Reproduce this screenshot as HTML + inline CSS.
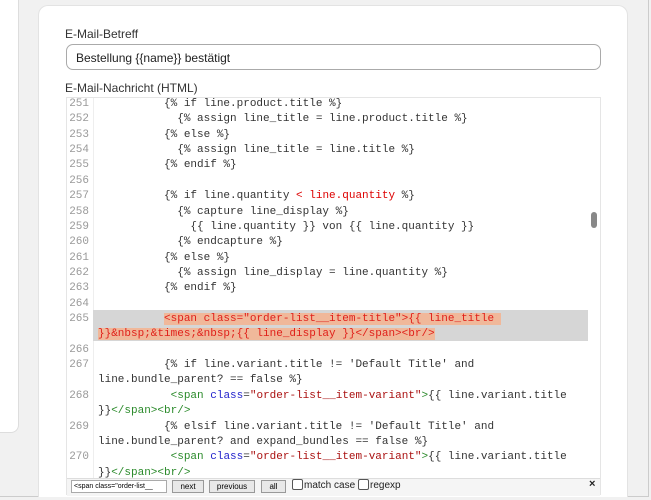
<!DOCTYPE html>
<html><head><meta charset="utf-8"><style>
body{margin:0;width:651px;height:500px;background:#f1f1f1;position:relative;overflow:hidden;font-family:"Liberation Sans",sans-serif}
.a{position:absolute}
.code{font-family:"Liberation Mono",monospace;font-size:11px;line-height:15.36px;white-space:pre;color:#333}
.ln{color:#999;width:22px;text-align:right;left:66px}
.r{color:#d00}.g{color:#2a8a2a}.b{color:#22c}.s{color:#a11}
.hl{background:#f0b89a;color:#e0201a}
</style></head><body>
<div class="a" style="left:0;top:0;width:648px;height:496px;background:#f1f1f1;border-bottom:1px solid #ccc;border-right:1px solid #ccc"></div>
<div class="a" style="left:-10px;top:-10px;width:27px;height:441px;background:#fff;border:1px solid #ddd;border-radius:0 0 8px 0"></div>
<div class="a" style="left:38px;top:5px;width:588px;height:491px;background:#fff;border:1px solid #e3e3e3;border-bottom:none;border-radius:10px 10px 0 0"></div>
<div class="a" style="left:65px;top:27px;font-size:12px;color:#333">E-Mail-Betreff</div>
<div class="a" style="left:66px;top:44px;height:26px;border:1px solid #aaa;border-radius:7px;box-sizing:border-box;width:535px"></div>
<div class="a" style="left:76px;top:51px;font-size:12px;color:#222">Bestellung {{name}} bestätigt</div>
<div class="a" style="left:65px;top:81px;font-size:12px;color:#333">E-Mail-Nachricht (HTML)</div>
<div class="a" style="left:66px;top:97px;width:535px;height:398px;border:1px solid #e5e5e5;box-sizing:border-box;overflow:hidden"></div>
<div class="a" style="left:93px;top:98px;width:1px;height:380px;background:#eee"></div>
<div class="a" style="left:93px;top:310px;width:495px;height:31px;background:#d6d6d6"></div>
<div class="a" style="left:591px;top:212px;width:6px;height:16px;background:#888;border-radius:3px"></div>
<div class="a" style="left:67px;top:98px;width:533px;height:380px;overflow:hidden">
<div class="a code ln" style="left:0;top:-1px">251
252
253
254
255
256
257
258
259
260
261
262
263
264
265

266
267

268

269

270</div>
<div class="a code" style="left:31px;top:-1px">          {% if line.product.title %}
            {% assign line_title = line.product.title %}
          {% else %}
            {% assign line_title = line.title %}
          {% endif %}

          {% if line.quantity <span class="r">&lt; line.quantity</span> %}
            {% capture line_display %}
              {{ line.quantity }} von {{ line.quantity }}
            {% endcapture %}
          {% else %}
            {% assign line_display = line.quantity %}
          {% endif %}

          <span class="hl">&lt;span class="order-list__item-title"&gt;{{ line_title </span>
<span class="hl">}}&amp;nbsp;&amp;times;&amp;nbsp;{{ line_display }}&lt;/span&gt;&lt;br/&gt;</span>

          {% if line.variant.title != 'Default Title' and
line.bundle_parent? == false %}
           <span class="g">&lt;span</span> <span class="b">class</span>=<span class="s">"order-list__item-variant"</span><span class="g">&gt;</span>{{ line.variant.title
}}<span class="g">&lt;/span&gt;&lt;br/&gt;</span>
          {% elsif line.variant.title != 'Default Title' and
line.bundle_parent? and expand_bundles == false %}
           <span class="g">&lt;span</span> <span class="b">class</span>=<span class="s">"order-list__item-variant"</span><span class="g">&gt;</span>{{ line.variant.title
}}<span class="g">&lt;/span&gt;&lt;br/&gt;</span></div>
</div>
<div class="a" style="left:67px;top:478px;width:533px;height:17px;background:#f5f5f5;border-top:1px solid #ddd"></div>
<div class="a" style="left:71px;top:480px;height:13px;border:1px solid #aaa;background:#fff;font-size:7px;line-height:12px;padding-left:2px;box-sizing:border-box;width:96px;overflow:hidden;white-space:nowrap">&lt;span class="order-list__</div>
<div class="a" style="left:172px;top:480px;width:32px;height:13px;border:1px solid #999;background:#e8e8e8;font-size:8px;line-height:12px;text-align:center;box-sizing:border-box">next</div>
<div class="a" style="left:209px;top:480px;width:46px;height:13px;border:1px solid #999;background:#e8e8e8;font-size:8px;line-height:12px;text-align:center;box-sizing:border-box">previous</div>
<div class="a" style="left:261px;top:480px;width:25px;height:13px;border:1px solid #999;background:#e8e8e8;font-size:8px;line-height:12px;text-align:center;box-sizing:border-box">all</div>
<div class="a" style="left:292px;top:479px;width:9px;height:9px;border:1px solid #555;border-radius:2px;background:#fff"></div>
<div class="a" style="left:304px;top:480px;font-size:10px;color:#222">match case</div>
<div class="a" style="left:358px;top:479px;width:9px;height:9px;border:1px solid #555;border-radius:2px;background:#fff"></div>
<div class="a" style="left:370px;top:480px;font-size:10px;color:#222">regexp</div>
<div class="a" style="left:589px;top:478px;font-size:11px;font-weight:bold;color:#222">×</div>
</body></html>
